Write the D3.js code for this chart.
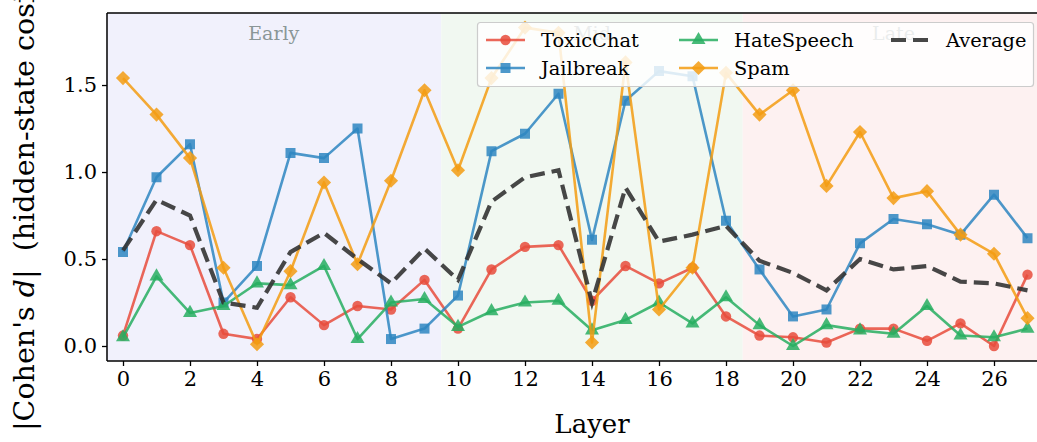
<!DOCTYPE html>
<html><head><meta charset="utf-8">
<script src="https://cdn.jsdelivr.net/npm/d3@7"></script>
<style>
body{margin:0;background:#fff;}
svg{display:block;font-family:"DejaVu Serif",serif;}
</style></head>
<body>
<svg id="chart" width="1037" height="442"></svg>
<script>
const layers = d3.range(0, 28);
const xTicks = [0,2,4,6,8,10,12,14,16,18,20,22,24,26];
const yTicks = [0.0, 0.5, 1.0, 1.5];

const toxicChat = [0.06,0.66,0.58,0.07,0.04,0.28,0.12,0.23,0.21,0.38,0.10,0.44,0.57,0.58,0.26,0.46,0.36,0.45,0.17,0.06,0.05,0.02,0.10,0.10,0.03,0.13,0.00,0.41];
const jailbreak = [0.54,0.97,1.16,0.25,0.46,1.11,1.08,1.25,0.04,0.10,0.29,1.12,1.22,1.45,0.61,1.41,1.58,1.55,0.72,0.44,0.17,0.21,0.59,0.73,0.70,0.64,0.87,0.62];
const hateSpeech = [0.05,0.40,0.19,0.23,0.36,0.35,0.46,0.04,0.25,0.27,0.11,0.20,0.25,0.26,0.09,0.15,0.25,0.13,0.28,0.12,0.00,0.12,0.09,0.07,0.23,0.06,0.05,0.10];
const spam = [1.54,1.33,1.08,0.45,0.01,0.43,0.94,0.47,0.95,1.47,1.01,1.54,1.83,1.80,0.02,1.63,0.21,0.45,1.57,1.33,1.47,0.92,1.23,0.85,0.89,0.64,0.53,0.16];
const average = [0.55,0.84,0.75,0.25,0.22,0.54,0.65,0.50,0.36,0.56,0.38,0.83,0.97,1.01,0.25,0.91,0.60,0.64,0.69,0.49,0.42,0.32,0.50,0.44,0.46,0.37,0.36,0.32];

const regionNames = ["Early","Mid","Late"];
const regionStart = [-0.5, 9.5, 18.5];
const regionEnd = [9.5, 18.5, 27.5];
const regionColors = ["#f1f1fc","#f1f8f1","#fdf1f1"];

const seriesNames = ["ToxicChat","Jailbreak","HateSpeech","Spam"];
const seriesValues = [toxicChat, jailbreak, hateSpeech, spam];
const seriesColors = ["#e74c3c","#2e86c1","#27ae60","#f39c12"];

const diamond = {draw(ctx, size){ const r = Math.sqrt(size/2); ctx.moveTo(0,-r); ctx.lineTo(r,0); ctx.lineTo(0,r); ctx.lineTo(-r,0); ctx.closePath(); }};
const seriesSymbols = [d3.symbolCircle, d3.symbolSquare, d3.symbolTriangle, diamond];
const symbolSizes = [85, 100, 85, 100];

const svg = d3.select("#chart");
const m = {left:107, top:13, bottom:361};
const x = d3.scaleLinear().domain([-0.5, 27.5]).range([106.25, 1044.25]);
const y = d3.scaleLinear().domain([-0.0862, 1.914]).range([m.bottom, m.top]);

const defs = svg.append("defs");
defs.append("clipPath").attr("id","plotclip").append("rect")
  .attr("x", x(-0.5)).attr("y", m.top).attr("width", x(27.5)-x(-0.5)).attr("height", m.bottom-m.top);

// regions
const g = svg.append("g");
regionNames.forEach((n,i)=>{
  g.append("rect").attr("x", x(regionStart[i])).attr("y", m.top)
    .attr("width", x(regionEnd[i])-x(regionStart[i])).attr("height", m.bottom-m.top)
    .attr("fill", regionColors[i]);
  g.append("text").attr("x", x((regionStart[i]+regionEnd[i])/2)).attr("y", 40)
    .attr("text-anchor","middle").attr("font-size", 19).attr("fill","#8a9697")
    .text(n);
});

const plot = svg.append("g").attr("clip-path","url(#plotclip)");
const line = d3.line().x((d,i)=>x(layers[i])).y(d=>y(d));

seriesValues.forEach((vals,si)=>{
  plot.append("path").datum(vals).attr("d", line)
    .attr("fill","none").attr("stroke", seriesColors[si]).attr("stroke-width", 2.6)
    .attr("stroke-opacity", 0.85).attr("stroke-linejoin","round");
  plot.selectAll(null).data(vals).enter().append("path")
    .attr("transform",(d,i)=>`translate(${x(layers[i])},${y(d)})`)
    .attr("d", d3.symbol().type(seriesSymbols[si]).size(symbolSizes[si]))
    .attr("fill", seriesColors[si]).attr("fill-opacity", 0.85);
});
plot.append("path").datum(average).attr("d", line)
  .attr("fill","none").attr("stroke","#333").attr("stroke-width",4.2)
  .attr("stroke-opacity",0.9).attr("stroke-dasharray","15,7");

// axes
const xAxis = d3.axisBottom(x).tickValues(xTicks).tickSize(5).tickPadding(5).tickFormat(d3.format("d"));
const yAxis = d3.axisLeft(y).tickValues(yTicks).tickSize(5).tickPadding(5).tickFormat(d3.format(".1f"));
const gx = svg.append("g").attr("transform",`translate(0,${m.bottom})`).call(xAxis);
const gy = svg.append("g").attr("transform",`translate(${m.left},0)`).call(yAxis);
[gx,gy].forEach(a=>{
  a.select(".domain").remove();
  a.selectAll(".tick line").attr("stroke","#000").attr("stroke-width",1.3);
  a.selectAll(".tick text").attr("font-family","DejaVu Serif").attr("font-size",21).attr("fill","#000");
});
// spines
svg.append("line").attr("x1",m.left).attr("x2",1037).attr("y1",m.top).attr("y2",m.top).attr("stroke","#000").attr("stroke-width",1.5);
svg.append("line").attr("x1",m.left).attr("x2",1037).attr("y1",m.bottom).attr("y2",m.bottom).attr("stroke","#000").attr("stroke-width",1.5);
svg.append("line").attr("x1",m.left).attr("x2",m.left).attr("y1",m.top).attr("y2",m.bottom).attr("stroke","#000").attr("stroke-width",1.5);

svg.append("text").attr("x", x(14)).attr("y", 433).attr("text-anchor","middle")
  .attr("font-size", 26).text("Layer");
const yl = svg.append("text").attr("transform","translate(34,431) rotate(-90)")
  .attr("text-anchor","start").attr("font-size",28.5);
yl.append("tspan").text("|Cohen's ");
yl.append("tspan").attr("font-style","italic").text("d");
yl.append("tspan").text("|\u00a0\u00a0(hidden-state cosine)");

// legend
const lg = svg.append("g");
lg.append("rect").attr("x",477.5).attr("y",22.5).attr("width",556).attr("height",64).attr("rx",3)
  .attr("fill","#fff").attr("fill-opacity",0.82).attr("stroke","#ccc").attr("stroke-width",1.2);
const legItems = [
  {name:seriesNames[0], c:seriesColors[0], s:seriesSymbols[0], sz:symbolSizes[0], x:486, y:40},
  {name:seriesNames[1], c:seriesColors[1], s:seriesSymbols[1], sz:symbolSizes[1], x:486, y:68},
  {name:seriesNames[2], c:seriesColors[2], s:seriesSymbols[2], sz:symbolSizes[2], x:679, y:40},
  {name:seriesNames[3], c:seriesColors[3], s:seriesSymbols[3], sz:symbolSizes[3], x:679, y:68}
];
legItems.forEach(it=>{
  lg.append("line").attr("x1",it.x).attr("x2",it.x+39).attr("y1",it.y).attr("y2",it.y)
    .attr("stroke",it.c).attr("stroke-width",2.6).attr("stroke-opacity",0.85);
  lg.append("path").attr("transform",`translate(${it.x+19.5},${it.y})`)
    .attr("d", d3.symbol().type(it.s).size(it.sz)).attr("fill",it.c).attr("fill-opacity",0.85);
  lg.append("text").attr("x",it.x+55).attr("y",it.y+7).attr("font-size",19.4).text(it.name);
});
lg.append("line").attr("x1",891).attr("x2",930).attr("y1",40).attr("y2",40)
  .attr("stroke","#333").attr("stroke-width",4.2).attr("stroke-opacity",0.9).attr("stroke-dasharray","15,7");
lg.append("text").attr("x",946).attr("y",47).attr("font-size",19.4).text("Average");
</script>
</body></html>
